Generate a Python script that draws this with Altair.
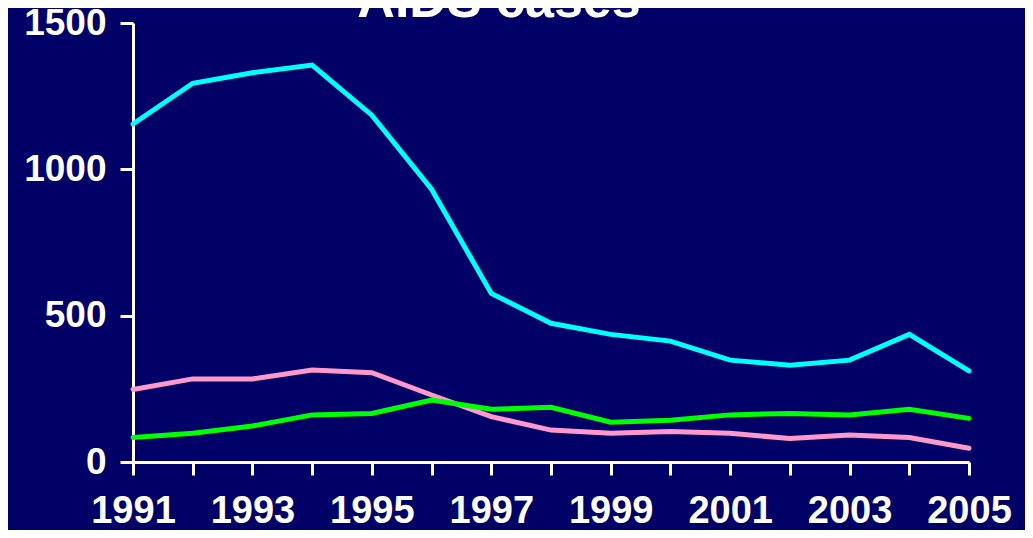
import altair as alt
import pandas as pd

years = list(range(1991, 2006))
series_names = ["Series 1", "Series 2", "Series 3"]
series_colors = ["#FF99CC", "#00FF00", "#00FFFF"]

pink_values = [248, 284, 284, 314, 305, 229, 155, 109, 98, 104, 98, 80, 92, 84, 47]
green_values = [84, 98, 123, 161, 166, 212, 180, 187, 136, 143, 161, 166, 161, 180, 149]
cyan_values = [1155, 1294, 1330, 1356, 1185, 932, 576, 474, 436, 413, 348, 331, 348, 436, 311]

y_ticks = [0, 500, 1000, 1500]
title_text = ["AIDS cases"]

rows = []
for name, vals in zip(series_names, [pink_values, green_values, cyan_values]):
    for yr, v in zip(years, vals):
        rows.append({"year": yr, "cases": v, "series": name})
df = pd.DataFrame(rows)

lines = alt.Chart(df).mark_line(strokeWidth=5, strokeCap="round", strokeJoin="miter").encode(
    x=alt.X("year:Q",
            scale=alt.Scale(domain=[1991, 2005], nice=False, zero=False),
            axis=alt.Axis(values=years, format="d",
                          labelExpr="datum.value % 2 == 1 ? datum.label : ''",
                          title=None, grid=False, tickSize=13, tickWidth=3,
                          domainWidth=3, domainColor="white", tickColor="white",
                          labelColor="white", labelFont="Liberation Sans",
                          labelFontWeight="bold", labelFontSize=38,
                          labelPadding=17, labelFlush=False, labelOverlap=False)),
    y=alt.Y("cases:Q",
            scale=alt.Scale(domain=[0, 1500], nice=False),
            axis=alt.Axis(values=y_ticks, format="d", title=None, grid=False, tickSize=13,
                          tickWidth=3, domainWidth=3, domainColor="white",
                          tickColor="white", labelColor="white",
                          labelFont="Liberation Sans", labelFontWeight="bold",
                          labelFontSize=37, labelPadding=14, labelFlush=False,
                          labelOverlap=False)),
    color=alt.Color("series:N",
                    scale=alt.Scale(domain=series_names, range=series_colors),
                    legend=None),
    order=alt.Order("series:N"),
)

title = alt.Chart(pd.DataFrame({"t": title_text})).mark_text(
    font="Liberation Sans", fontSize=52, fontWeight="bold", color="white",
    align="center", baseline="alphabetic"
).encode(
    text="t:N",
    x=alt.value(366),
    y=alt.value(-6),
)

chart = alt.layer(lines, title).properties(
    width=836,
    height=439,
    autosize=alt.AutoSizeParams(type="none"),
    padding={"left": 125, "top": 15, "right": 56, "bottom": 68},
).configure(
    background="#000066"
).configure_view(
    stroke=None
)

chart.save("out.html", embed_options={"renderer": "svg", "actions": False})
